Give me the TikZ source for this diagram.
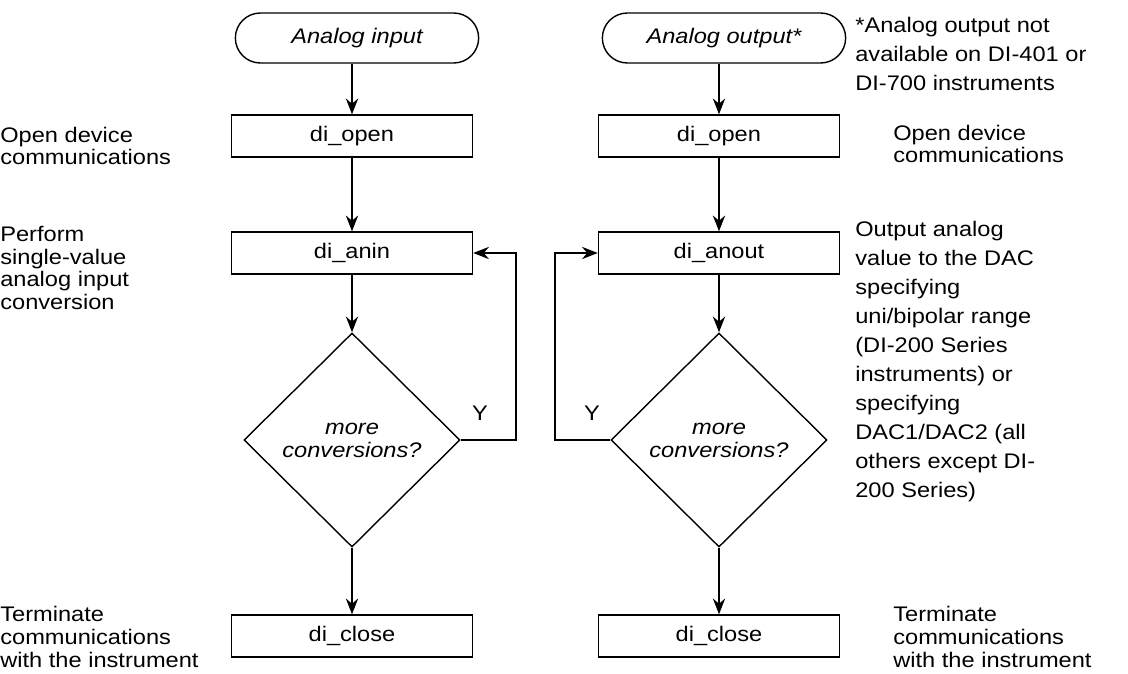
\documentclass[tikz,border=0pt]{standalone}
\usepackage{fontspec}
\setmainfont{Liberation Sans}[FakeStretch=1.12]
\usetikzlibrary{shapes.geometric,shapes.misc,arrows.meta}

\begin{document}
\begin{tikzpicture}[x=0.2mm,y=-0.2mm,font=\fontsize{12}{13}\selectfont]
    %styles
    \tikzstyle{term}=[rounded rectangle,draw,line width=0.8pt,minimum width=5.1cm,minimum height=1cm,font=\fontsize{12}{13}\selectfont\itshape]
    \tikzstyle{call}=[rectangle,draw,line width=0.8pt,minimum width=4.82cm,minimum height=0.84cm]
    \tikzstyle{test}=[diamond,draw,line width=0.8pt,minimum width=4.32cm,minimum height=4.28cm,inner sep=0pt,align=center,font=\fontsize{12}{13}\selectfont\itshape]
    \tikzstyle{note}=[anchor=west,align=left,inner sep=0pt]
    \tikzstyle{longnote}=[note,font=\fontsize{12}{16.5}\selectfont]
    \tikzstyle{flow}=[-{Stealth[length=9pt,width=7pt,inset=3pt]},line width=0.8pt]
    \useasboundingbox (0,0) rectangle (1128,673);

    %nodes, input side
    \node[term] (tin) at (357,38) {Analog input};
    \node[call] (oin) at (352,136) {di\_open};
    \node[call] (ain) at (352,253) {di\_anin};
    \node[test] (dl) at (352,440) {more\\conversions?};
    \node[call] (cin) at (352,636) {di\_close};
    \node (yl) at (480,413) {Y};

    %nodes, output side
    \node[term] (tout) at (724,38) {Analog output*};
    \node[call] (oout) at (719,136) {di\_open};
    \node[call] (aout) at (719,253) {di\_anout};
    \node[test] (dr) at (719,440) {more\\conversions?};
    \node[call] (cout) at (719,636) {di\_close};
    \node (yr) at (592,413) {Y};

    %notes
    \node[note] (n1) at (0,146) {Open device\\communications};
    \node[note] (n2) at (0,268) {Perform\\single-value\\analog input\\conversion};
    \node[note] (n3) at (0,637) {Terminate\\communications\\with the instrument};
    \node[longnote] (n4) at (855,54) {*Analog output not\\available on DI-401 or\\DI-700 instruments};
    \node[note] (n5) at (893,144) {Open device\\communications};
    \node[longnote] (n6) at (855,362) {Output analog\\value to the DAC\\specifying\\uni/bipolar range\\(DI-200 Series\\instruments) or\\specifying\\DAC1/DAC2 (all\\others except DI-\\200 Series)};
    \node[note] (n7) at (893,637) {Terminate\\communications\\with the instrument};

    %arrows
    \draw[flow] (tin.south -| oin) -- (oin);
    \draw[flow] (oin) -- (ain);
    \draw[flow] (ain) -- (dl);
    \draw[flow] (dl) -- (cin);
    \coordinate (lloop) at (516,440);
    \draw[flow] (dl.east) -- (lloop) |- (ain.east);

    \draw[flow] (tout.south -| oout) -- (oout);
    \draw[flow] (oout) -- (aout);
    \draw[flow] (aout) -- (dr);
    \draw[flow] (dr) -- (cout);
    \coordinate (rloop) at (555,440);
    \draw[flow] (dr.west) -- (rloop) |- (aout.west);
\end{tikzpicture}
\end{document}
